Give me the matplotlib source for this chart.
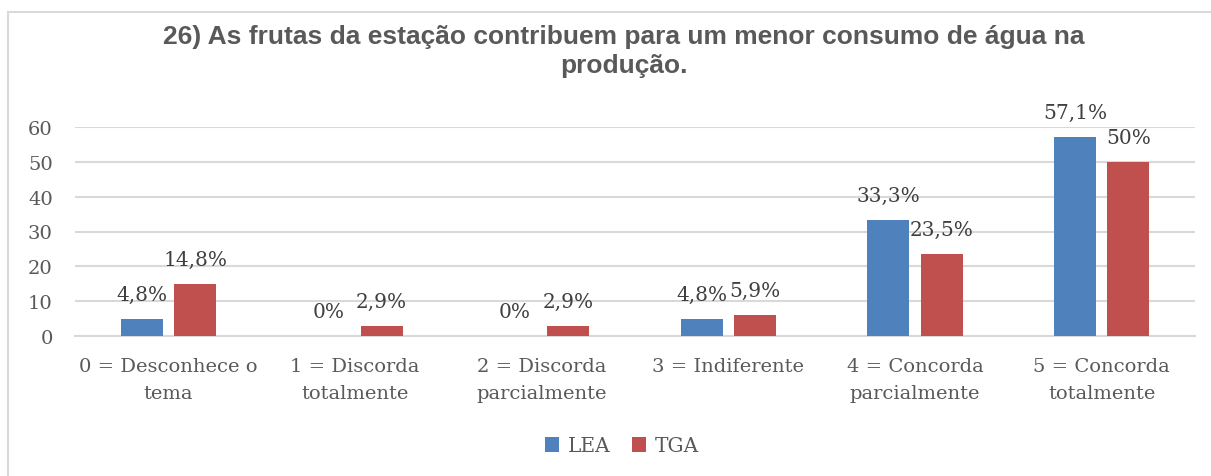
import numpy as np
import matplotlib
matplotlib.use('Agg')
import matplotlib.pyplot as plt
from matplotlib.patches import Rectangle

categories = ['0 = Desconhece o\ntema', '1 = Discorda\ntotalmente', '2 = Discorda\nparcialmente',
              '3 = Indiferente', '4 = Concorda\nparcialmente', '5 = Concorda\ntotalmente']
lea = [4.8, 0, 0, 4.8, 33.3, 57.1]
tga = [14.8, 2.9, 2.9, 5.9, 23.5, 50]
lea_labels = ['4,8%', '0%', '0%', '4,8%', '33,3%', '57,1%']
tga_labels = ['14,8%', '2,9%', '2,9%', '5,9%', '23,5%', '50%']
yticks = [0, 10, 20, 30, 40, 50, 60]
title = '26) As frutas da estação contribuem para um menor consumo de água na\nprodução.'

BLUE = '#4f81bd'
RED = '#c0504d'
GRAY = '#595959'
GRID = '#d9d9d9'
SERIF = 'DejaVu Serif'

fig = plt.figure(figsize=(12.11, 4.77), dpi=100)
fig.patches.append(Rectangle((8/1211, -0.1), 1.5, 1.1 - 13/477, transform=fig.transFigure,
                             fill=False, edgecolor=GRID, linewidth=1.5, zorder=0))

ax = fig.add_axes([75/1211, 1 - 337/477, 1120/1211, 209/477])
x = np.arange(len(categories))
off = 0.143
w = 0.225
ax.bar(x - off, lea, w, color=BLUE, label='LEA', zorder=3)
ax.bar(x + off, tga, w, color=RED, label='TGA', zorder=3)

for i in range(len(categories)):
    ax.annotate(lea_labels[i], (x[i] - off, lea[i]), xytext=(0, 11), textcoords='offset points',
                ha='center', va='bottom', fontsize=14.5, family=SERIF, color='#404040')
    ax.annotate(tga_labels[i], (x[i] + off, tga[i]), xytext=(0, 11), textcoords='offset points',
                ha='center', va='bottom', fontsize=14.5, family=SERIF, color='#404040')

ax.set_xlim(-0.5, len(categories) - 0.5)
ax.set_ylim(0, 60)
ax.set_yticks(yticks)
ax.set_xticks(x)
ax.set_xticklabels(categories, fontsize=14, family=SERIF, color=GRAY, linespacing=1.65)
for lbl in ax.get_yticklabels():
    lbl.set_fontsize(14)
    lbl.set_family(SERIF)
    lbl.set_color(GRAY)
ax.tick_params(axis='both', length=0)
ax.tick_params(axis='x', pad=15)
ax.tick_params(axis='y', pad=16)
ax.grid(axis='y', color=GRID, linewidth=1.5, zorder=0)
for s in ['top', 'right', 'left']:
    ax.spines[s].set_visible(False)
ax.spines['bottom'].set_color(GRID)
ax.spines['bottom'].set_linewidth(1.5)

fig.text(624/1211, 1 - 25/477, title, ha='center', va='top', fontsize=19, fontweight='bold',
         family='Liberation Sans', color=GRAY, linespacing=1.28)

leg = fig.legend(loc='center', bbox_to_anchor=(622/1211, 1 - 447/477), ncol=2, frameon=False,
                 prop={'family': SERIF, 'size': 14.5}, handlelength=0.7, handleheight=0.7,
                 handletextpad=0.4, columnspacing=1.1)
for t in leg.get_texts():
    t.set_color(GRAY)

fig.savefig('out.png', dpi=100)
